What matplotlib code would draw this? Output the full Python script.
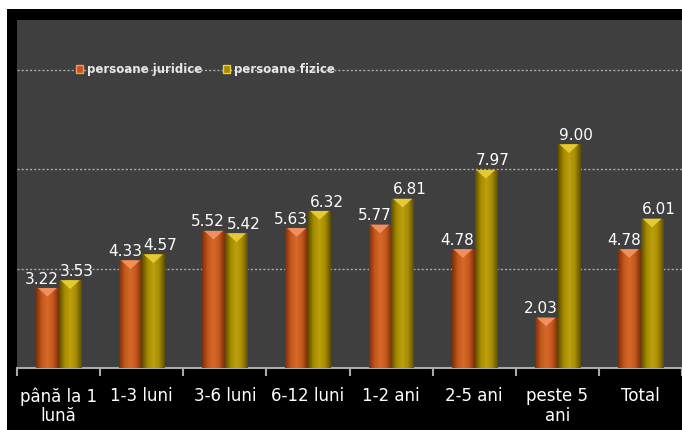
import numpy as np
import matplotlib.pyplot as plt
from matplotlib.patches import Patch, Polygon, Rectangle
from matplotlib.colors import LinearSegmentedColormap

# data
categories = ["până la 1\nlună", "1-3 luni", "3-6 luni", "6-12 luni",
              "1-2 ani", "2-5 ani", "peste 5\nani", "Total"]
juridice = [3.22, 4.33, 5.52, 5.63, 5.77, 4.78, 2.03, 4.78]
fizice = [3.53, 4.57, 5.42, 6.32, 6.81, 7.97, 9.00, 6.01]
series_names = ["persoane juridice", "persoane fizice"]

orange = ["#7a300c", "#c4571b", "#d8692a", "#c4571b", "#7a300c"]
yellow = ["#5e4f00", "#a68c00", "#bca010", "#a68c00", "#5e4f00"]
caps = ["#f59563", "#ecd038"]

fig = plt.figure(figsize=(6.82, 4.30), dpi=100, facecolor="white")
# black frame behind the plot
fig.patches.append(Rectangle((7 / 682, 0), 1, 1 - 9 / 430, transform=fig.transFigure,
                             facecolor="black", edgecolor="none", zorder=-10))
ax = fig.add_axes([17 / 682, 1 - 368 / 430, 1 - 17 / 682, 348 / 430])
ax.set_facecolor("#3f3f3f")

x = np.arange(len(categories))
w = 0.27
grad = np.linspace(0, 1, 64).reshape(1, -1)

for vals, off, cols, cap, dx in [(juridice, -0.135, orange, caps[0], -4),
                                 (fizice, 0.14, yellow, caps[1], 5)]:
    cmap = LinearSegmentedColormap.from_list("g", cols)
    bars = ax.bar(x + off, vals, w, color=cols[1], zorder=2)
    for b in bars:
        x0, h, bw = b.get_x(), b.get_height(), b.get_width()
        im = ax.imshow(grad, extent=[x0, x0 + bw, 0, h], cmap=cmap, aspect="auto", zorder=3)
        im.set_clip_path(b)
        ax.add_patch(Polygon([(x0 + 0.02, h), (x0 + bw - 0.02, h), (x0 + bw / 2, h - 0.35)],
                             closed=True, facecolor=cap, edgecolor="none", zorder=4, alpha=0.9))
        ax.annotate(f"{h:.2f}", (x0 + bw / 2, h), xytext=(dx, 1), textcoords="offset points",
                    ha="center", va="bottom", color="white", fontsize=11, zorder=5)

ax.set_xlim(-0.5, len(categories) - 0.5)
ax.set_ylim(0, 14)

# dotted grid
for gy in [4, 8, 12]:
    ax.axhline(gy, color="#aaaaaa", linestyle=(0, (1.5, 1.5)), linewidth=1, zorder=1)

ax.set_yticks([])
ax.set_xticks(np.arange(-0.5, len(categories) + 0.5, 1))
ax.set_xticklabels([])
ax.tick_params(axis="x", which="major", direction="out", length=6, color="#aaaaaa", width=1.5)
ax.set_xticks(x, minor=True)
ax.set_xticklabels(categories, minor=True, color="white", fontsize=12, linespacing=1.1)
ax.tick_params(axis="x", which="minor", length=0, pad=14)

for s in ["top", "left", "right"]:
    ax.spines[s].set_visible(False)
ax.spines["bottom"].set_color("#aaaaaa")
ax.spines["bottom"].set_linewidth(1.5)

handles = [Patch(facecolor=orange[1], edgecolor=caps[0]), Patch(facecolor=yellow[1], edgecolor=caps[1])]
leg = ax.legend(handles, series_names, loc="center", bbox_to_anchor=(0.283, 12 / 14), ncol=2,
                frameon=False, handlelength=0.6, handleheight=0.6, handletextpad=0.3,
                columnspacing=1.8, prop={"size": 8.5, "weight": "bold"})
for t in leg.get_texts():
    t.set_color("#e6e6e6")

fig.savefig("out.png", dpi=100, facecolor=fig.get_facecolor())
